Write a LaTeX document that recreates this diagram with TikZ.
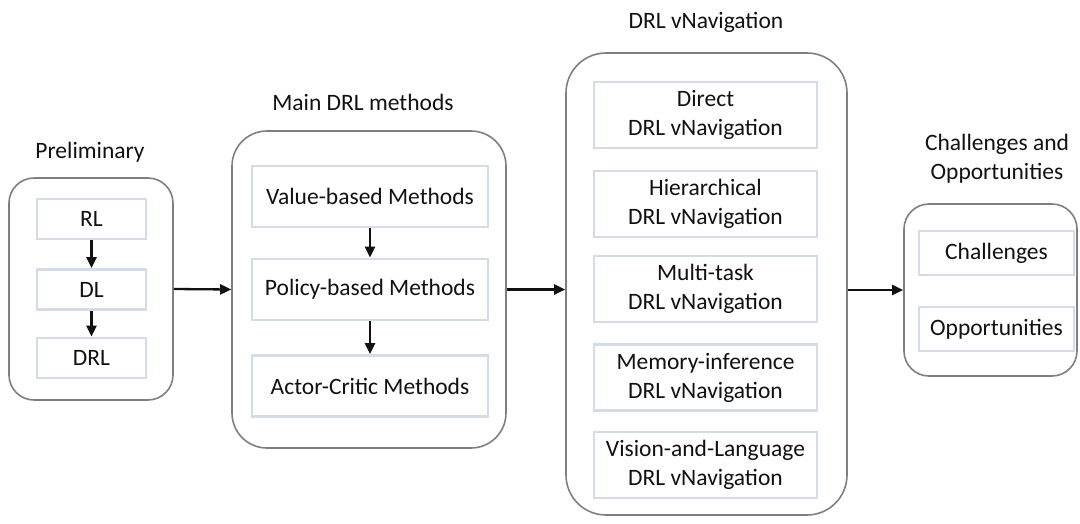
\documentclass[tikz,border=0pt]{standalone}
\usepackage{fontspec}
\setmainfont{Carlito}
\usetikzlibrary{arrows.meta}
\definecolor{framegray}{HTML}{7F7F7F}
\definecolor{itemline}{HTML}{D6DCE5}
\definecolor{ink}{HTML}{111111}
\tikzset{
  group/.style={draw=framegray, line width=1.6pt, rounded corners=#1, fill=white},
  item/.style={draw=itemline, line width=2.8pt, fill=white, align=center,
               inner sep=0pt, font=\fontsize{23.5}{29}\selectfont, text=ink},
  title/.style={align=center, font=\fontsize{23.5}{29}\selectfont, text=ink},
  flow/.style={draw=ink, line width=2.3pt, -{Triangle[length=11pt,width=10pt]}},
}
\begin{document}
\begin{tikzpicture}[x=1pt,y=-1pt]
\useasboundingbox (0,0) rectangle (1080,523);

% outer groups
\node[group=25pt, minimum width=164pt, minimum height=222pt] (pre) at (91,289) {};
\node[group=35pt, minimum width=274pt, minimum height=317pt] (main) at (369,289.5) {};
\node[group=40pt, minimum width=281pt, minimum height=462pt] (nav) at (706.5,284) {};
\node[group=25pt, minimum width=173pt, minimum height=172pt] (co) at (990.5,290) {};

% titles
\node[title] (tpre) at (90,152) {Preliminary};
\node[title] (tmain) at (363,102) {Main DRL methods};
\node[title] (tnav) at (706,22) {DRL vNavigation};
\node[title] (tco) at (997,159) {Challenges and\\Opportunities};

% preliminary items
\node[item, minimum width=109pt, minimum height=40pt] (rl) at (91.5,219) {RL};
\node[item, minimum width=109pt, minimum height=40pt] (dl) at (91.5,289.5) {DL};
\node[item, minimum width=109pt, minimum height=40pt] (drl) at (91.5,358) {DRL};

% main method items
\node[item, minimum width=236pt, minimum height=61pt] (val) at (370,196.5) {Value-based Methods};
\node[item, minimum width=236pt, minimum height=61pt] (pol) at (370,289.5) {Policy-based Methods};
\node[item, minimum width=236pt, minimum height=61pt] (ac) at (370,386) {Actor-Critic Methods};

% navigation items
\node[item, minimum width=223pt, minimum height=66pt] (n1) at (705.5,115) {Direct\\DRL vNavigation};
\node[item, minimum width=223pt, minimum height=66pt] (n2) at (705.5,204) {Hierarchical\\DRL vNavigation};
\node[item, minimum width=223pt, minimum height=66pt] (n3) at (705.5,289) {Multi-task\\DRL vNavigation};
\node[item, minimum width=223pt, minimum height=66pt] (n4) at (705.5,377.5) {Memory-inference\\DRL vNavigation};
\node[item, minimum width=223pt, minimum height=66pt] (n5) at (705.5,465) {Vision-and-Language\\DRL vNavigation};

% challenges and opportunities items
\node[item, minimum width=155pt, minimum height=44pt] (ch) at (996.5,253) {Challenges};
\node[item, minimum width=155pt, minimum height=44pt] (op) at (996.5,329) {Opportunities};

% connectors
\draw[flow] (rl) -- (dl);
\draw[flow] (dl) -- (drl);
\draw[flow] (val) -- (pol);
\draw[flow] (pol) -- (ac);
\draw[flow] (pre.east) -- (main.west);
\draw[flow] (main.east) -- (nav.west |- main.east);
\draw[flow] (nav.east |- co.west) -- (co.west);
\end{tikzpicture}
\end{document}
